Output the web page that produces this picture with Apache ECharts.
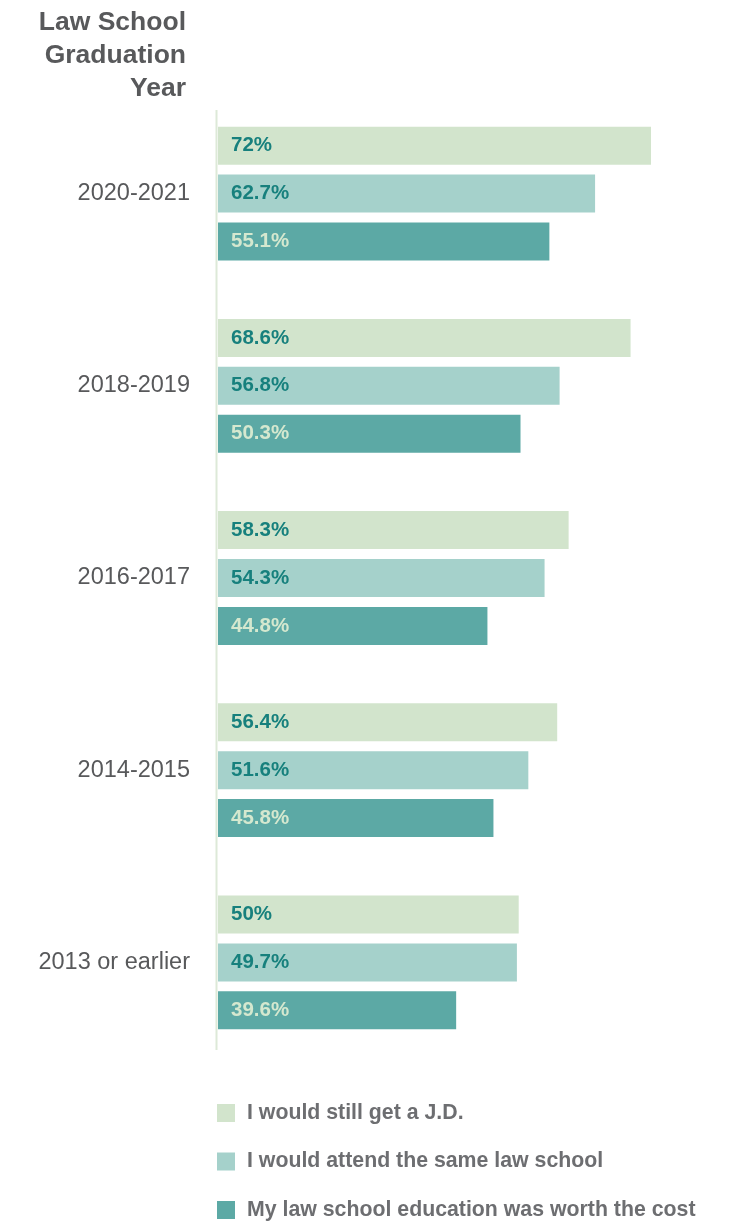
<!DOCTYPE html>
<html>
<head>
<meta charset="utf-8">
<script src="https://cdn.jsdelivr.net/npm/echarts@6/dist/echarts.min.js"></script>
<style>
  html, body { margin: 0; padding: 0; background: #ffffff; }
  #chart { width: 732px; height: 1222px; }
</style>
</head>
<body>
<div id="chart"></div>
<script>
// Graduation-year groups, top to bottom
const categories = ['2020-2021', '2018-2019', '2016-2017', '2014-2015', '2013 or earlier'];

// Share of respondents agreeing with each statement (%)
const stillGetJD = [72, 68.6, 58.3, 56.4, 50];
const sameLawSchool = [62.7, 56.8, 54.3, 51.6, 49.7];
const worthTheCost = [55.1, 50.3, 44.8, 45.8, 39.6];

const seriesNames = [
  'I would still get a J.D.',
  'I would attend the same law school',
  'My law school education was worth the cost'
];

const FONT = '"Liberation Sans", Arial, Helvetica, sans-serif';
const barColors = ['#d2e4cc', '#a5d1cb', '#5ca9a5'];
const labelColors = ['#17807d', '#17807d', '#d5e8cf'];

const chart = echarts.init(document.getElementById('chart'), null, { renderer: 'canvas' });

function barSeries(name, data, i) {
  return {
    name: name,
    type: 'bar',
    data: data,
    barWidth: 38,
    barGap: '26%',
    itemStyle: { color: barColors[i] },
    emphasis: { disabled: true },
    label: {
      show: true,
      position: 'insideLeft',
      distance: 13,
      formatter: p => p.value + '%',
      color: labelColors[i],
      fontFamily: FONT,
      fontWeight: 'bold',
      fontSize: 20.5
    }
  };
}

chart.setOption({
  animation: false,
  grid: { left: 218, top: 97.5, width: 511.2, height: 961, containLabel: false },
  xAxis: {
    type: 'value',
    min: 0,
    max: 85,
    show: false
  },
  yAxis: {
    type: 'category',
    data: categories,
    inverse: true,
    axisLine: { show: false },
    axisTick: { show: false },
    axisLabel: {
      color: '#58595b',
      fontFamily: FONT,
      fontSize: 23.5,
      margin: 28
    }
  },
  legend: {
    orient: 'vertical',
    left: 217,
    top: 1102.5,
    height: 200,
    padding: 0,
    itemWidth: 18,
    itemHeight: 18,
    itemGap: 27.5,
    icon: 'rect',
    selectedMode: false,
    textStyle: {
      color: '#6d6e71',
      fontFamily: FONT,
      fontWeight: 'bold',
      fontSize: 21.3,
      lineHeight: 18,
      padding: [0, 0, 0, 7]
    },
    data: seriesNames
  },
  graphic: [
    {
      type: 'text',
      x: 186,
      y: 6,
      style: {
        text: 'Law School\nGraduation\nYear',
        fill: '#58595b',
        font: 'bold 26.5px ' + FONT,
        align: 'right',
        lineHeight: 33
      }
    },
    {
      type: 'line',
      shape: { x1: 216.5, y1: 110, x2: 216.5, y2: 1050 },
      style: { stroke: '#dde9d8', lineWidth: 2 },
      z: 10
    }
  ],
  series: [
    barSeries(seriesNames[0], stillGetJD, 0),
    barSeries(seriesNames[1], sameLawSchool, 1),
    barSeries(seriesNames[2], worthTheCost, 2)
  ]
});
</script>
</body>
</html>
